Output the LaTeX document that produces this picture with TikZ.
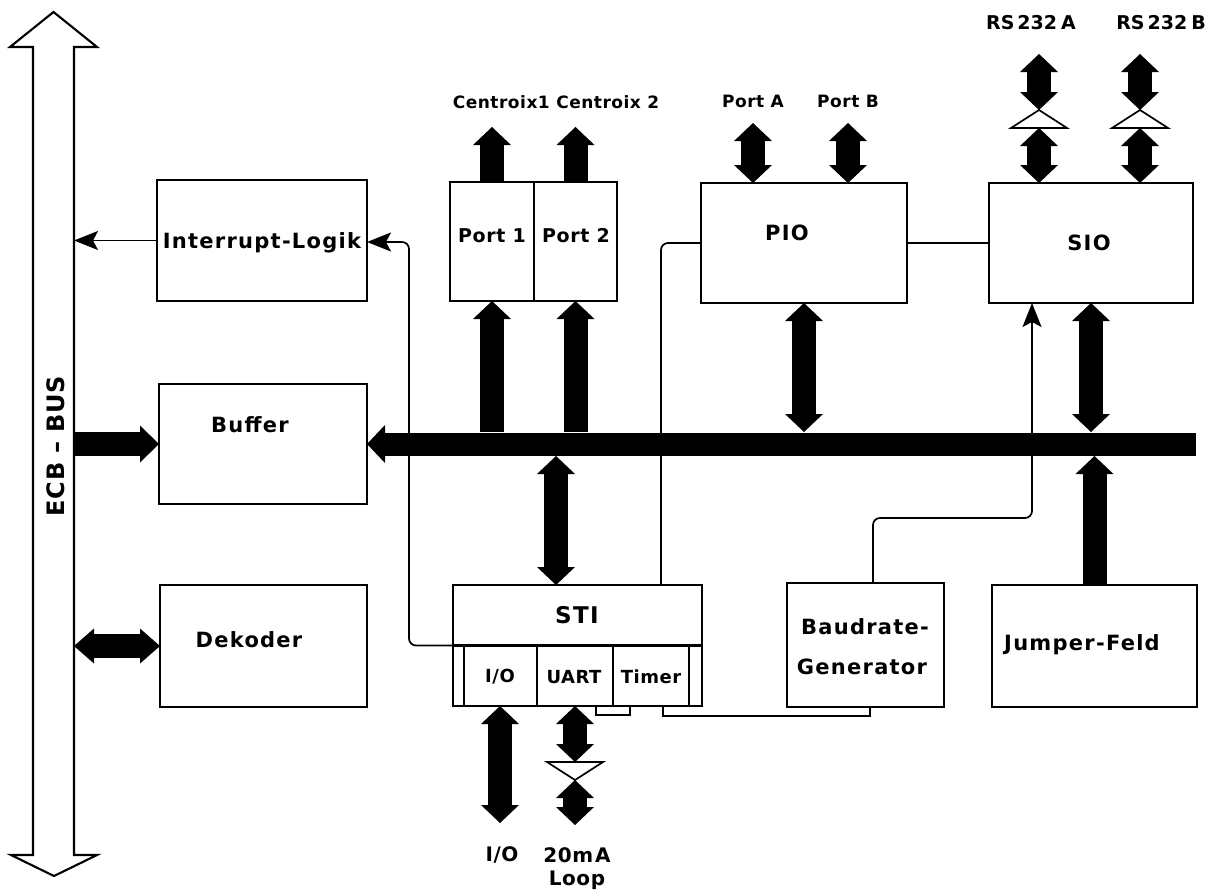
\documentclass[tikz,border=0pt]{standalone}
\usepackage{fontspec}
\setmainfont{DejaVu Sans}
\newfontfamily\lab[LetterSpace=6]{DejaVu Sans}
\newfontfamily\labs[LetterSpace=3]{DejaVu Sans}
\usetikzlibrary{arrows.meta,calc}
\begin{document}
\begin{tikzpicture}[x=1pt,y=-1pt,
  box/.style={draw,line width=2.1pt,inner sep=0pt,outer sep=0pt,anchor=north west},
  lbig/.style={font=\lab\bfseries\fontsize{21}{25}\selectfont,inner sep=0pt},
  lport/.style={font=\labs\bfseries\fontsize{19}{22}\selectfont,inner sep=0pt},
  lsub/.style={font=\labs\bfseries\fontsize{18}{22}\selectfont,inner sep=0pt},
  ltop/.style={font=\labs\bfseries\fontsize{17}{20}\selectfont,inner sep=0pt},
  lrs/.style={font=\bfseries\fontsize{19}{22}\selectfont,inner sep=0pt},
  lbot/.style={font=\labs\bfseries\fontsize{20}{24}\selectfont,inner sep=0pt},
  thinline/.style={line width=1.7pt},
  tipS/.tip={Stealth[length=24pt,width=19pt,inset=5pt]},
  fhead/.tip={Triangle[length=18pt,width=38pt,line width=0pt]},
  fat/.style={line width=24pt,-fhead},
  fatboth/.style={line width=24pt,fhead-fhead},
  valve/.style={line width=1.7pt,fill=white,line join=miter},
]
\fill[white] (0,0) rectangle (1212,889);
\useasboundingbox (0,0) rectangle (1212,889);

% ECB bus (hollow double arrow)
\draw[line width=2.1pt,line join=miter,fill=white]
  (53.5,12) -- (97,47) -- (74,47) -- (74,855) -- (97,855) -- (54,876)
  -- (11,855) -- (33,855) -- (33,47) -- (10,47) -- cycle;
\coordinate (ecbR) at (74,0);
\node[font=\labs\bfseries\fontsize{24}{28}\selectfont,rotate=90,inner sep=0pt] (ecblabel) at (56,446) {ECB – BUS};

% boxes
\node[box,minimum width=210pt,minimum height=121pt] (intr) at (157,180) {};
\node[box,minimum width=208pt,minimum height=120pt] (buffer) at (159,384) {};
\node[box,minimum width=207pt,minimum height=122pt] (dekoder) at (160,585) {};
\node[box,minimum width=84pt,minimum height=119pt] (port1) at (450,182) {};
\node[box,minimum width=83pt,minimum height=119pt] (port2) at (534,182) {};
\node[box,minimum width=206pt,minimum height=120pt] (pio) at (701,183) {};
\node[box,minimum width=204pt,minimum height=120pt] (sio) at (989,183) {};
\node[box,minimum width=249pt,minimum height=121pt] (sti) at (453,585) {};
\node[box,minimum width=157pt,minimum height=124pt] (baud) at (787,583) {};
\node[box,minimum width=205pt,minimum height=122pt] (jumper) at (992,585) {};

% STI internal divisions
\draw[line width=2.1pt] (sti.west) -- (sti.east);
\draw[line width=1.8pt] (464,645.5) -- (464,706) (537,645.5) -- (537,706)
  (613,645.5) -- (613,706) (689,645.5) -- (689,706);

% texts
\node[lbig] (tintr) at (262,243) {Interrupt-Logik};
\node[lbig] (tbuf) at (250,425) {Buffer};
\node[lbig] (tdek) at (249,640) {Dekoder};
\node[lport] (tp1) at (492,236) {Port 1};
\node[lport] (tp2) at (576,236) {Port 2};
\node[lbig] (tpio) at (787,233) {PIO};
\node[lbig] (tsio) at (1089,243) {SIO};
\node[font=\lab\bfseries\fontsize{23}{26}\selectfont,inner sep=0pt] (tsti) at (577,615) {STI};
\node[lsub] (tio) at (500,677) {I/O};
\node[lsub] (tuart) at (574,677) {UART};
\node[lsub] (ttimer) at (651,677) {Timer};
\node[lbig] (tbaud1) at (865,627) {Baudrate-};
\node[lbig] (tbaud2) at (862,667) {Generator};
\node[lbig] (tjump) at (1082,645) {Jumper-Feld};
\node[ltop] (tcen) at (556,102) {Centroix1 Centroix 2};
\node[ltop] (tpa) at (753,101) {Port A};
\node[ltop] (tpb) at (848,101) {Port B};
\node[lrs] (trsa) at (1031,23) {RS\kern3pt232\kern4pt A};
\node[lrs] (trsb) at (1161,23) {RS\kern3pt232\kern4pt B};
\node[lbot] (bio) at (502,855) {I/O};
\node[lbot] (b20) at (577,855) {20m\kern2pt A};
\node[lbot] (bloop) at (577,880) {Loop};

% bus coordinates
\coordinate (bustop) at (0,432);
\coordinate (busbot) at (0,456);
\coordinate (busR) at (1196,444);

% main bus
\draw[line width=23pt,-fhead] (busR) -- (buffer.east);

% ECB to Buffer / Dekoder
\draw[line width=24pt,-{Triangle[length=19pt,width=37pt,line width=0pt]}] (ecbR |- buffer.west) -- (buffer.west);
\draw[line width=24pt,{Triangle[length=20pt,width=35pt,line width=0pt]}-{Triangle[length=20pt,width=35pt,line width=0pt]}] (ecbR |- dekoder.west) -- (dekoder.west);

% Interrupt-Logik to ECB
\draw[thinline,-tipS] (intr.west) -- (intr.west -| ecbR);
% STI to Interrupt-Logik
\draw[thinline,rounded corners=7pt,-tipS] (sti.west) -- ++(-44,0) |- ([yshift=-1.5pt]intr.east);

% Ports
\draw[fat] (port1.south |- bustop) -- (port1.south);
\draw[fat] (port2.south |- bustop) -- (port2.south);
\draw[fat] (port1.north) -- ++(0,-55);
\draw[fat] (port2.north) -- ++(0,-55);

% PIO
\draw[fatboth] ([xshift=52pt]pio.north west) -- ++(0,-60);
\draw[fatboth] ([xshift=-59pt]pio.north east) -- ++(0,-60);
\draw[fatboth] (pio.south) -- (pio.south |- bustop);
\draw[thinline] (pio.east) -- (sio.west);
\draw[thinline,rounded corners=7pt] (pio.west) -| ([xshift=-41pt]sti.north east);

% SIO
\draw[fatboth] (sio.south) -- (sio.south |- bustop);
\coordinate (rsA) at ([xshift=50pt]sio.north west);
\coordinate (rsB) at ([xshift=-53pt]sio.north east);
\draw[fatboth] (rsA) -- ++(0,-55) coordinate (rsAb);
\draw[fatboth] (rsB) -- ++(0,-55) coordinate (rsBb);
\draw[valve] ([xshift=-28pt]rsAb) -- ([xshift=28pt]rsAb) -- ([yshift=18pt]rsAb) coordinate (rsAt) -- cycle;
\draw[valve] ([xshift=-28pt]rsBb) -- ([xshift=28pt]rsBb) -- ([yshift=18pt]rsBb) coordinate (rsBt) -- cycle;
\draw[fatboth] (rsAt) -- ++(0,-56);
\draw[fatboth] (rsBt) -- ++(0,-56);

% Jumper-Feld
\draw[fat] (jumper.north) -- (jumper.north |- busbot);

% Baudrate to SIO
\draw[thinline,rounded corners=7pt,-tipS] ([xshift=7.5pt]baud.north) -- ++(0,-65) -| ([xshift=43pt]sio.south west);

% STI connections
\coordinate (stiTop) at ([xshift=103pt]sti.north west);
\draw[fatboth] (stiTop) -- (stiTop |- busbot);
\coordinate (ioP) at ([xshift=47pt]sti.south west);
\draw[fatboth] (ioP) -- ++(0,117);
\coordinate (uartP) at ([xshift=122pt]sti.south west);
\draw[fatboth] (uartP) -- ++(0,56) coordinate (uartB);
\draw[valve] ([xshift=-28pt]uartB) -- ([xshift=28pt]uartB) -- ([yshift=-18pt]uartB) coordinate (uartT) -- cycle;
\draw[fatboth] (uartT) -- ++(0,45);

% small brackets under STI
\draw[thinline] ([xshift=143pt]sti.south west) -- ++(0,9) -- ++(34,0) -- ++(0,-9);
\draw[thinline] ([xshift=210pt]sti.south west) -- ++(0,10) -| ([xshift=4.5pt]baud.south);
\end{tikzpicture}
\end{document}
